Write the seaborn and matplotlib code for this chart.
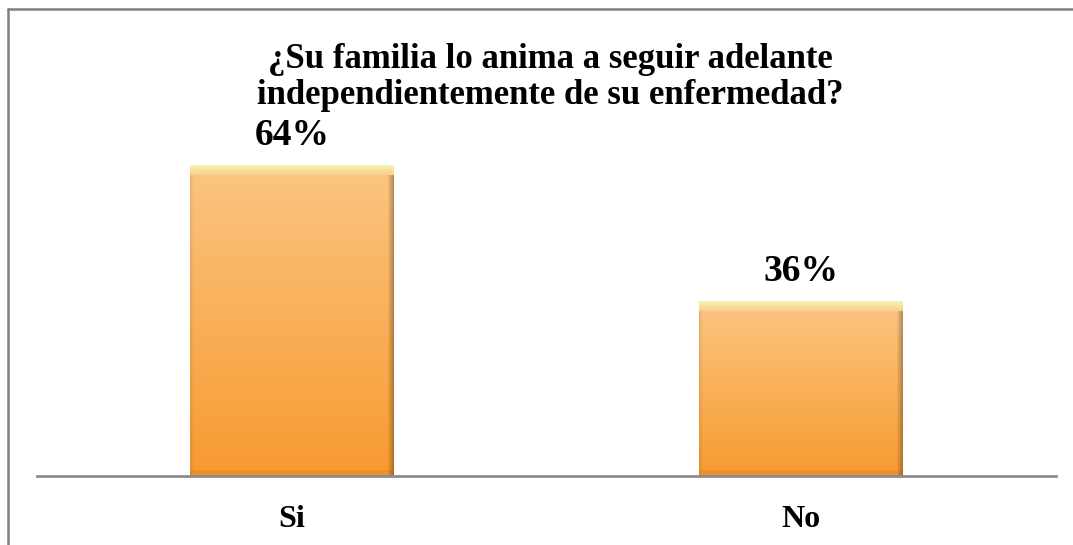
import numpy as np
import pandas as pd
import seaborn as sns
import matplotlib.pyplot as plt
from matplotlib.colors import to_rgb
from matplotlib.lines import Line2D
from matplotlib.patches import Shadow

categories = ['Si', 'No']
values = [64, 36]
value_labels = ['64%', '36%']
title = '¿Su familia lo anima a seguir adelante\nindependientemente de su enfermedad?'

sns.set_style('white')
plt.rcParams['font.family'] = ['Liberation Serif', 'DejaVu Serif']
plt.rcParams['font.weight'] = 'bold'

W, H = 1073, 545
fig = plt.figure(figsize=(W / 100, H / 100), dpi=100)
fig.patch.set_facecolor('white')

# axes placed to match the reference (pixels -> figure fraction)
ax = fig.add_axes([37 / W, (H - 476) / H, (1056 - 37) / W, 340 / H])
df = pd.DataFrame({'cat': categories, 'val': values})
sns.barplot(data=df, x='cat', y='val', order=categories, width=0.4,
            color='#F9B162', saturation=1, ax=ax, zorder=2)
ax.set_ylim(0, 70)
ax.set_xlim(-0.5, 1.5)


def blend(c1, c2, t):
    c1, c2 = np.array(to_rgb(c1)), np.array(to_rgb(c2))
    return c1 + (c2 - c1) * t


# gradient fill + bevel for each bar
for p in list(ax.patches):
    x0, y0 = p.get_x(), p.get_y()
    w, h = p.get_width(), p.get_height()
    hp = int(round(h * 340 / 70))
    wp = 204
    img = np.zeros((hp, wp, 3))
    for r in range(hp):
        if r < 10:
            col = blend('#F5F2B4', '#FBCB88', r / 10)
        else:
            col = blend('#FBC47F', '#F79A2F', (r - 10) / max(hp - 10, 1))
        img[r, :, :] = col
    # right edge darker, left edge slightly darker
    for c in range(6):
        k = (6 - c) / 6
        img[10:, wp - 1 - c, :] = img[10:, wp - 1 - c, :] * (1 - 0.28 * k)
    for c in range(4):
        k = (4 - c) / 4
        img[10:, c, :] = img[10:, c, :] * (1 - 0.08 * k)
    # bottom slightly darker strip
    img[-6:, :, :] = img[-6:, :, :] * 0.95
    sh = Shadow(p, 4, -2, facecolor='#E4E4E4', edgecolor='none', zorder=1)
    ax.add_patch(sh)
    im = ax.imshow(img, extent=(x0, x0 + w, y0, y0 + h), aspect='auto',
                   zorder=3, interpolation='bilinear')
    im.set_clip_path(p)
    p.set_edgecolor('none')

ax.bar_label(ax.containers[0], labels=value_labels, padding=9,
             fontsize=27, fontweight='bold', color='black')

for s in ['top', 'right', 'left']:
    ax.spines[s].set_visible(False)
ax.spines['bottom'].set_color('#8C8C8C')
ax.spines['bottom'].set_linewidth(2)
ax.spines['bottom'].set_zorder(4)
ax.set_yticks([])
ax.set_xlabel('')
ax.set_ylabel('')
ax.tick_params(axis='x', length=0, pad=21)
for lab in ax.get_xticklabels():
    lab.set_fontsize(23)
    lab.set_fontweight('bold')
    lab.set_color('black')

fig.text(550 / W, 1 - 78 / H, title, ha='center', va='center',
         fontsize=25, fontweight='bold', linespacing=1.12, color='black')

# chart border (only top and left visible in the crop)
fig.add_artist(Line2D([8 / W, 8 / W], [0, 1 - 9 / H], color='#808080', lw=1.8))
fig.add_artist(Line2D([8 / W, 1], [1 - 9 / H, 1 - 9 / H], color='#808080', lw=1.8))

fig.savefig('out.png', dpi=100, facecolor='white')
